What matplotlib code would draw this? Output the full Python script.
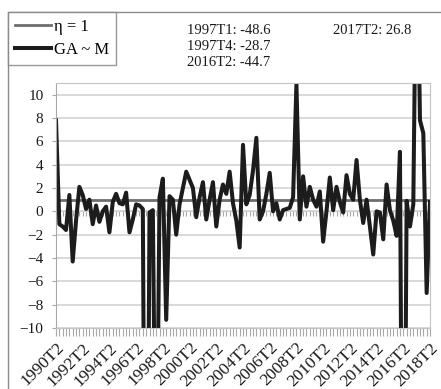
import numpy as np
import matplotlib.pyplot as plt
from matplotlib.lines import Line2D

plt.rcParams['font.family'] = ['Liberation Serif', 'DejaVu Serif']

# quarterly categories 1990T2 .. 2018T2
quarters = [f"{y}T{q}" for y in range(1990, 2019) for q in range(1, 5)]
quarters = quarters[quarters.index('1990T2'):quarters.index('2018T2') + 1]

# GA ~ M series (off-scale values from the notes)
ga_m = [7.8, -1.1, -1.3, -1.6, 1.4, -4.3, -0.8, 2.1, 1.4, 0.2,
        1.0, -1.1, 0.5, -0.9, 0.0, 0.4, -1.8, 0.8, 1.5, 0.7,
        0.6, 1.6, -1.8, -0.7, 0.6, 0.5, 0.2, -48.6, -0.1, 0.1,
        -28.7, 1.2, 2.8, -9.3, 1.3, 1.0, -2.0, 0.6, 2.0, 3.4,
        2.7, 2.0, -0.5, 1.2, 2.5, -0.7, 1.0, 2.5, -1.3, 1.0,
        2.3, 1.5, 3.4, 0.7, -0.8, -3.1, 5.7, 0.6, 1.4, 3.5,
        6.3, -0.7, 0.0, 1.5, 3.3, 0.0, 0.7, -0.7, 0.1, 0.2,
        0.3, 1.2, 10.9, -0.7, 3.0, 0.4, 2.1, 1.0, 0.4, 1.7,
        -2.6, 0.0, 2.9, 0.1, 2.1, 0.8, -0.1, 3.1, 1.5, 1.0,
        4.4, 1.0, -1.0, 1.0, -1.3, -3.7, 0.0, -0.1, -2.4, 2.3,
        0.1, -0.8, -2.1, 5.1, -44.7, 0.9, -1.3, 0.6, 26.8, 7.8,
        6.7, -7.0, 0.8]
eta_line = [1.0] * len(quarters)

notes_left = ['1997T1', '1997T4', '2016T2']
notes_right = ['2017T2']

n = len(quarters)
x = np.arange(n)

fig = plt.figure(figsize=(4.41, 3.89), dpi=100)
ax = fig.add_axes([56 / 441, 61 / 389, 374 / 441, 245 / 389])

# hatch of quarter ticks along the zero line
ax0 = ax.twiny()
ax0.set_xlim(0, n - 1)
ax0.xaxis.set_ticks_position('bottom')
ax0.spines['bottom'].set_position(('data', 0))
ax0.spines['bottom'].set_color('#cfcfcf')
for s in ['top', 'left', 'right']:
    ax0.spines[s].set_visible(False)
ax0.set_xticks(range(n))
ax0.set_xticklabels([])
ax0.tick_params(axis='x', length=3.5, width=0.8, color='#a8a8a8', direction='out')
ax.set_zorder(ax0.get_zorder() + 1)
ax.patch.set_visible(False)

ax.plot(x, eta_line, color='#6e6e6e', lw=2.0, label='η = 1')
ax.plot(x, ga_m, color='#1c1c1c', lw=2.9, label='GA ~ M', solid_joinstyle='round')

ax.set_xlim(0, n - 1)
ax.set_ylim(-10, 11)
ax.set_yticks(range(-10, 11, 2))
ax.yaxis.grid(True, color='#cfcfcf', lw=1.1)
ax.set_xticks(range(0, n, 8))
ax.set_xticklabels(quarters[::8], rotation=45, ha='right', va='top',
                   rotation_mode='anchor', fontsize=12.5, color='#1a1a1a')
ax.set_xticks(range(n), minor=True)
ax.tick_params(axis='x', which='both', length=5.5, width=0.8, color='#a8a8a8', pad=3)
ax.tick_params(axis='y', length=3, width=0.8, color='#a8a8a8', pad=6,
               labelsize=11, labelcolor='#1a1a1a')
for s in ax.spines.values():
    s.set_color('#c4c4c4')
ax.spines['left'].set_color('#a8a8a8')

leg = fig.legend(loc='upper left', bbox_to_anchor=(8 / 441, 1 - 12 / 389),
                 borderaxespad=0, fancybox=False, edgecolor='#808080',
                 fontsize=12, handlelength=2.2, handletextpad=0.15,
                 borderpad=0.4, labelspacing=0.45)
leg.get_frame().set_linewidth(1.0)

fs = 10.5
for k, q in enumerate(notes_left):
    fig.text(229 / 441, 1 - (30 + 16 * k) / 389, f"{q}: {ga_m[quarters.index(q)]}",
             ha='center', va='center', fontsize=fs, color='#1a1a1a')
for k, q in enumerate(notes_right):
    fig.text(372 / 441, 1 - (30 + 16 * k) / 389, f"{q}: {ga_m[quarters.index(q)]}",
             ha='center', va='center', fontsize=fs, color='#1a1a1a')

fig.add_artist(Line2D([8 / 441, 8 / 441, 1.0], [0, 1 - 12 / 389, 1 - 12 / 389],
                      transform=fig.transFigure, color='#8a8a8a', lw=1))

fig.savefig('out.png', dpi=100)
